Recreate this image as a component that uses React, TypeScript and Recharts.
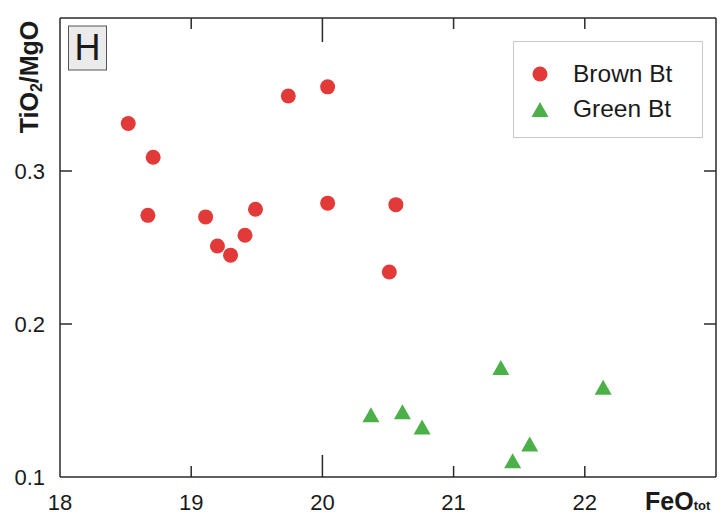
import React from 'react';
import { ScatterChart, Scatter, XAxis, YAxis, Legend, Customized } from 'recharts';

const brownFeO = [18.52, 18.71, 18.67, 19.11, 19.2, 19.3, 19.41, 19.49, 19.74, 20.04, 20.04, 20.56, 20.51];
const brownRatio = [0.331, 0.309, 0.271, 0.27, 0.251, 0.245, 0.258, 0.275, 0.349, 0.355, 0.279, 0.278, 0.234];
const greenFeO = [20.37, 20.61, 20.76, 21.36, 21.45, 21.58, 22.14];
const greenRatio = [0.139, 0.141, 0.131, 0.17, 0.109, 0.12, 0.157];
const xTicks = [18, 19, 20, 21, 22];
const yTicks = [0.1, 0.2, 0.3];
const xTicksTop = [19, 20, 21, 22];
const yTicksRight = [0.2, 0.3];
const seriesNames = ['Brown Bt', 'Green Bt'];

const brownData = brownFeO.map((x, i) => ({ x, y: brownRatio[i] }));
const greenData = greenFeO.map((x, i) => ({ x, y: greenRatio[i] }));

const RED = '#e13a39';
const GREEN = '#4cb049';
const AX = '#2a2a2a';
const TXT = '#1a1a1a';
const FONT = '"Liberation Sans", Arial, sans-serif';

const Circle = (p: any) => <circle cx={p.cx} cy={p.cy} r={7.5} fill={RED} />;
const Tri = (p: any) => {
  const h = 15;
  const w = 8.5;
  const { cx, cy } = p;
  return (
    <polygon
      points={`${cx},${cy - (2 * h) / 3} ${cx + w},${cy + h / 3} ${cx - w},${cy + h / 3}`}
      fill={GREEN}
    />
  );
};
const Nothing = () => <g />;

const BottomTick = (p: any) => {
  const { x, y, payload } = p;
  const v = payload.value;
  const len = v === 20 ? 22 : 11;
  return (
    <g>
      {v !== 18 && <line x1={x} x2={x} y1={y} y2={y - len} stroke={AX} strokeWidth={1.5} />}
      <text x={x} y={y + 33} textAnchor="middle" fontSize={22} fill={TXT} fontFamily={FONT}>
        {v}
      </text>
    </g>
  );
};

const TopTick = (p: any) => {
  const { x, y, payload } = p;
  const v = payload.value;
  const len = v === 20 ? 24 : 11;
  return <line x1={x} x2={x} y1={y} y2={y + len} stroke={AX} strokeWidth={1.5} />;
};

const LeftTick = (p: any) => {
  const { x, y, payload } = p;
  const v = payload.value;
  return (
    <g>
      {v !== 0.1 && <line x1={x} x2={x + 12} y1={y} y2={y} stroke={AX} strokeWidth={1.5} />}
      <text x={x - 15} y={y} dy="0.36em" textAnchor="end" fontSize={22} fill={TXT} fontFamily={FONT}>
        {v}
      </text>
    </g>
  );
};

const RightTick = (p: any) => {
  const { x, y } = p;
  return <line x1={x} x2={x - 12} y1={y} y2={y} stroke={AX} strokeWidth={1.5} />;
};

const LegendBox = () => (
  <svg width={190} height={97} style={{ display: 'block' }}>
    <rect x={0.5} y={0.5} width={189} height={96} fill="#fff" stroke="#c8c8c8" />
    <circle cx={27} cy={33} r={7.5} fill={RED} />
    <text x={60} y={32} dy="0.36em" fontSize={24.5} fill={TXT} fontFamily={FONT}>
      {seriesNames[0]}
    </text>
    <polygon points={`27,${71 - 10} ${35.5},${71 + 5} ${18.5},${71 + 5}`} fill={GREEN} />
    <text x={60} y={67} dy="0.36em" fontSize={24.5} fill={TXT} fontFamily={FONT}>
      {seriesNames[1]}
    </text>
  </svg>
);

const Extras = () => (
  <g fontFamily={FONT}>
    <rect x={68.5} y={26} width={38} height={44} fill="#ebebeb" stroke="#555" strokeWidth={1} />
    <text x={87.5} y={60} textAnchor="middle" fontSize={36} fill={TXT}>
      H
    </text>
    <text transform="translate(38, 77) rotate(-90)" textAnchor="middle" fontSize={25} fontWeight="bold" fill={TXT}>
      TiO<tspan fontSize={16} dy={4}>2</tspan>
      <tspan dy={-4}>/MgO</tspan>
    </text>
    <text x={645} y={510} fontSize={25} fontWeight="bold" fill={TXT}>
      FeO<tspan fontSize={13}>tot</tspan>
    </text>
  </g>
);

export default function App() {
  return (
    <div style={{ position: 'absolute', left: 0, top: 0, fontFamily: FONT, background: '#fff' }}>
      <ScatterChart width={726} height={530} margin={{ top: 17, right: 9, bottom: 0, left: 0 }}>
        <XAxis
          xAxisId="b"
          type="number"
          dataKey="x"
          domain={[18, 23]}
          ticks={xTicks}
          interval={0}
          orientation="bottom"
          height={53}
          tickSize={0}
          tickMargin={0}
          tickLine={false}
          tick={<BottomTick />}
          axisLine={{ stroke: AX, strokeWidth: 1.5 }}
          allowDataOverflow
        />
        <XAxis
          xAxisId="t"
          type="number"
          dataKey="x"
          domain={[18, 23]}
          ticks={xTicksTop}
          interval={0}
          orientation="top"
          height={1}
          tickSize={0}
          tickMargin={0}
          tickLine={false}
          tick={<TopTick />}
          axisLine={{ stroke: AX, strokeWidth: 1.5 }}
          allowDataOverflow
        />
        <YAxis
          yAxisId="l"
          type="number"
          dataKey="y"
          domain={[0.1, 0.4]}
          ticks={yTicks}
          interval={0}
          orientation="left"
          width={60}
          tickSize={0}
          tickMargin={0}
          tickLine={false}
          tick={<LeftTick />}
          axisLine={{ stroke: AX, strokeWidth: 1.5 }}
          allowDataOverflow
        />
        <YAxis
          yAxisId="r"
          type="number"
          dataKey="y"
          domain={[0.1, 0.4]}
          ticks={yTicksRight}
          interval={0}
          orientation="right"
          width={1}
          tickSize={0}
          tickMargin={0}
          tickLine={false}
          tick={<RightTick />}
          axisLine={{ stroke: AX, strokeWidth: 1.5 }}
          allowDataOverflow
        />
        <Scatter
          name={seriesNames[0]}
          data={brownData}
          xAxisId="b"
          yAxisId="l"
          shape={Circle}
          fill={RED}
          isAnimationActive={false}
        />
        <Scatter
          name={seriesNames[1]}
          data={greenData}
          xAxisId="b"
          yAxisId="l"
          shape={Tri}
          fill={GREEN}
          isAnimationActive={false}
        />
        <Scatter
          name="frame"
          data={brownData}
          xAxisId="t"
          yAxisId="r"
          shape={Nothing}
          legendType="none"
          isAnimationActive={false}
        />
        <Legend
          layout="vertical"
          align="center"
          verticalAlign="middle"
          content={<LegendBox />}
          wrapperStyle={{ position: 'absolute', left: 513, top: 41, width: 190, height: 97 }}
        />
        <Customized component={Extras} />
      </ScatterChart>
    </div>
  );
}
